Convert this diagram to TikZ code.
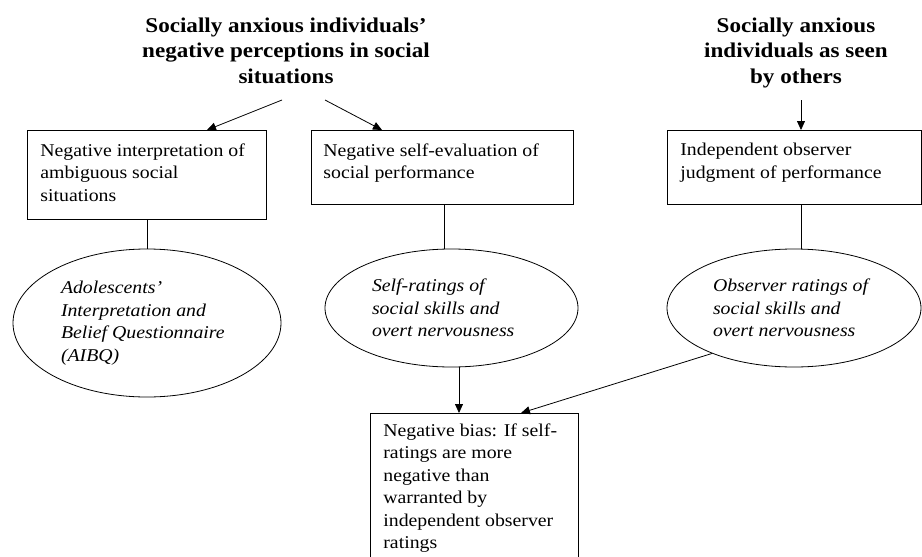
\documentclass[tikz,border=0pt]{standalone}
\usepackage{fontspec}
\setmainfont[FakeStretch=1.1]{Liberation Serif}
\usetikzlibrary{shapes.geometric,arrows.meta}
\newcommand{\bx}[3]{\parbox[c][#2][t]{#1}{\raggedright #3}}
\begin{document}
\begin{tikzpicture}[x=1pt,y=-1pt,
  every node/.style={inner sep=0pt},
  bodyfont/.style={font=\fontsize{18}{22.5}\selectfont},
  titlenode/.style={align=center,anchor=north,font=\fontsize{21}{25.5}\selectfont\bfseries},
  boxnode/.style={draw,line width=0.8pt,anchor=north west,inner sep=13pt,bodyfont},
  ellnode/.style={draw,ellipse,line width=0.8pt,bodyfont,font=\fontsize{18}{22.5}\selectfont\itshape},
  conn/.style={line width=0.8pt},
  arr/.style={line width=0.8pt,-{Triangle[length=9pt,width=8pt]}}]
\clip (0,0) rectangle (922,557);

\node[titlenode] (t1) at (286,17.5) {Socially anxious individuals’\\negative perceptions in social\\situations};
\node[titlenode] (t2) at (796,17.5) {Socially anxious\\individuals as seen\\by others};

\coordinate (t1a) at (282,100);
\coordinate (t1b) at (325,100);
\coordinate (t2a) at (801,100);

\node[boxnode] (b1) at (27,130) {\bx{213pt}{63pt}{Negative interpretation of\\ambiguous social\\situations}};
\node[boxnode,inner xsep=12pt] (b2) at (311,130) {\bx{238pt}{48pt}{Negative self-evaluation of\\social performance}};
\node[boxnode] (b3) at (667,130) {\bx{228pt}{48pt}{Independent observer\\judgment of performance}};

\node[ellnode,minimum width=268pt,minimum height=148pt] (e1) at (147,323) {\parbox{172pt}{\raggedright Adolescents’\\Interpretation and\\Belief Questionnaire\\(AIBQ)}};
\node[ellnode,minimum width=253pt,minimum height=118pt] (e2) at (451.5,308) {\parbox{159pt}{\raggedright Self-ratings of\\social skills and\\overt nervousness}};
\node[ellnode,minimum width=254pt,minimum height=118pt] (e3) at (794,308) {\parbox{162pt}{\raggedright Observer ratings of\\social skills and\\overt nervousness}};

\node[boxnode,inner ysep=10pt] (b4) at (370,413) {\bx{182pt}{160pt}{Negative bias: If self-\\ratings are more\\negative than\\warranted by\\independent observer\\ratings}};

\draw[arr] (t1a) -- ([xshift=180pt]b1.north west);
\draw[arr] (t1b) -- ([xshift=71pt]b2.north west);
\draw[arr] (t2a) -- ([xshift=134pt]b3.north west);

\draw[conn] (b1.south) -- (b1.south |- e1.north);
\draw[conn] ([xshift=2pt]b2.south) -- ([xshift=2pt]b2.south |- e2.north);
\draw[conn] ([xshift=7pt]b3.south) -- ([xshift=7pt]b3.south |- e3.north);

\draw[arr] ([xshift=89pt]b4.north west |- e2.south) -- ([xshift=89pt]b4.north west);
\draw[arr] (e3.209) -- ([xshift=151pt]b4.north west);
\end{tikzpicture}
\end{document}
